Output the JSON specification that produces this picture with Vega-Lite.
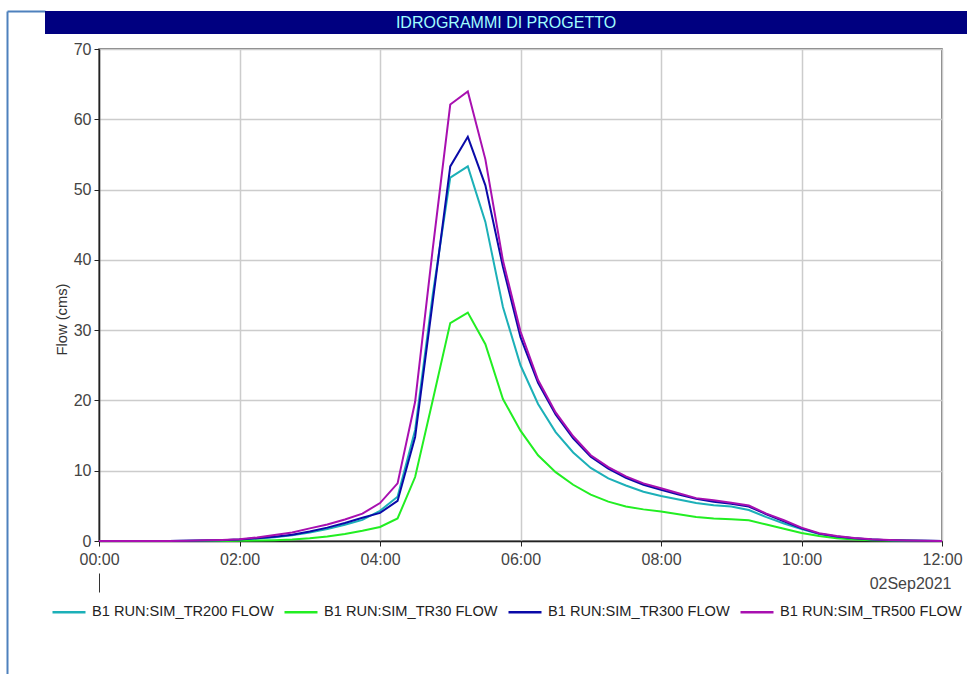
{
  "$schema": "https://vega.github.io/schema/vega-lite/v6.json",
  "padding": {"left": 7, "top": 11, "right": 0, "bottom": 0},
  "background": "white",
  "spacing": 0,
  "config": {
    "font": "Liberation Sans",
    "view": {"stroke": "#555555", "strokeWidth": 1.5},
    "axis": {
      "labelFont": "Liberation Sans",
      "labelFontSize": 16,
      "labelColor": "#444444",
      "tickColor": "#222222",
      "tickSize": 5,
      "domainColor": "#222222",
      "domainWidth": 1.5,
      "gridColor": "#cccccc",
      "gridWidth": 1.5,
      "titleFont": "Liberation Sans",
      "titleFontWeight": "normal"
    }
  },
  "hconcat": [
    {
      "width": 38,
      "height": 664,
      "view": {"stroke": null},
      "data": {"values": [{"a": 0}]},
      "mark": {"type": "point", "opacity": 0, "size": 0},
      "encoding": {
        "x": {"field": "a", "type": "quantitative", "axis": {"orient": "top", "domainColor": "#4f81bd", "domainWidth": 2, "ticks": false, "labels": false, "grid": false, "title": null}},
        "y": {"field": "a", "type": "quantitative", "axis": {"orient": "left", "domainColor": "#4f81bd", "domainWidth": 2, "ticks": false, "labels": false, "grid": false, "title": null}}
      }
    },
    {
      "spacing": 6,
      "vconcat": [
        {
          "width": 922,
          "height": 23,
          "view": {"fill": "#000080", "stroke": null},
          "data": {"values": [{"label": "IDROGRAMMI DI PROGETTO"}]},
          "mark": {"type": "text", "color": "#a0ffff", "fontSize": 16, "font": "Liberation Sans", "baseline": "middle", "align": "center"},
          "encoding": {"text": {"field": "label", "type": "nominal"}}
        },
        {
          "spacing": 0,
          "hconcat": [
            {
              "width": 8,
              "height": 1,
              "view": {"stroke": null},
              "data": {"values": [{"b": 0}]},
              "mark": {"type": "point", "opacity": 0, "size": 0}
            },
            {
              "width": 843,
              "height": 492,
              "layer": [
                {
                  "data": {"values": [
                    {"t": "2021-09-02T00:00", "TR200": 0, "TR30": 0, "TR300": 0, "TR500": 0},
                    {"t": "2021-09-02T00:15", "TR200": 0, "TR30": 0, "TR300": 0, "TR500": 0},
                    {"t": "2021-09-02T00:30", "TR200": 0, "TR30": 0, "TR300": 0, "TR500": 0},
                    {"t": "2021-09-02T00:45", "TR200": 0, "TR30": 0, "TR300": 0, "TR500": 0},
                    {"t": "2021-09-02T01:00", "TR200": 0, "TR30": 0, "TR300": 0, "TR500": 0},
                    {"t": "2021-09-02T01:15", "TR200": 0.03, "TR30": 0, "TR300": 0.03, "TR500": 0.04},
                    {"t": "2021-09-02T01:30", "TR200": 0.07, "TR30": 0, "TR300": 0.07, "TR500": 0.09},
                    {"t": "2021-09-02T01:45", "TR200": 0.12, "TR30": 0.01, "TR300": 0.12, "TR500": 0.15},
                    {"t": "2021-09-02T02:00", "TR200": 0.2, "TR30": 0.03, "TR300": 0.2, "TR500": 0.25},
                    {"t": "2021-09-02T02:15", "TR200": 0.35, "TR30": 0.06, "TR300": 0.4, "TR500": 0.5},
                    {"t": "2021-09-02T02:30", "TR200": 0.55, "TR30": 0.12, "TR300": 0.6, "TR500": 0.85},
                    {"t": "2021-09-02T02:45", "TR200": 0.8, "TR30": 0.22, "TR300": 0.9, "TR500": 1.2},
                    {"t": "2021-09-02T03:00", "TR200": 1.2, "TR30": 0.38, "TR300": 1.35, "TR500": 1.8},
                    {"t": "2021-09-02T03:15", "TR200": 1.7, "TR30": 0.65, "TR300": 1.9, "TR500": 2.35},
                    {"t": "2021-09-02T03:30", "TR200": 2.3, "TR30": 1.0, "TR300": 2.55, "TR500": 3.05},
                    {"t": "2021-09-02T03:45", "TR200": 3.0, "TR30": 1.45, "TR300": 3.3, "TR500": 3.9},
                    {"t": "2021-09-02T04:00", "TR200": 4.3, "TR30": 2.0, "TR300": 4.0, "TR500": 5.4},
                    {"t": "2021-09-02T04:15", "TR200": 6.3, "TR30": 3.2, "TR300": 5.7, "TR500": 8.2},
                    {"t": "2021-09-02T04:30", "TR200": 15.8, "TR30": 9.1, "TR300": 14.8, "TR500": 19.8},
                    {"t": "2021-09-02T04:45", "TR200": 35, "TR30": 20, "TR300": 34, "TR500": 41.5},
                    {"t": "2021-09-02T05:00", "TR200": 51.7, "TR30": 31.0, "TR300": 53.3, "TR500": 62.1},
                    {"t": "2021-09-02T05:15", "TR200": 53.3, "TR30": 32.5, "TR300": 57.5, "TR500": 63.95},
                    {"t": "2021-09-02T05:30", "TR200": 45.4, "TR30": 28.0, "TR300": 50.6, "TR500": 54.3},
                    {"t": "2021-09-02T05:45", "TR200": 33.3, "TR30": 20.2, "TR300": 39.0, "TR500": 39.9},
                    {"t": "2021-09-02T06:00", "TR200": 25.0, "TR30": 15.7, "TR300": 29.0, "TR500": 29.8},
                    {"t": "2021-09-02T06:15", "TR200": 19.5, "TR30": 12.2, "TR300": 22.5, "TR500": 22.9},
                    {"t": "2021-09-02T06:30", "TR200": 15.5, "TR30": 9.8, "TR300": 18.0, "TR500": 18.3},
                    {"t": "2021-09-02T06:45", "TR200": 12.6, "TR30": 8.0, "TR300": 14.6, "TR500": 14.9},
                    {"t": "2021-09-02T07:00", "TR200": 10.4, "TR30": 6.6, "TR300": 12.0, "TR500": 12.2},
                    {"t": "2021-09-02T07:15", "TR200": 8.9, "TR30": 5.6, "TR300": 10.3, "TR500": 10.5},
                    {"t": "2021-09-02T07:30", "TR200": 7.9, "TR30": 4.9, "TR300": 9.0, "TR500": 9.2},
                    {"t": "2021-09-02T07:45", "TR200": 7.0, "TR30": 4.5, "TR300": 8.0, "TR500": 8.2},
                    {"t": "2021-09-02T08:00", "TR200": 6.4, "TR30": 4.2, "TR300": 7.3, "TR500": 7.5},
                    {"t": "2021-09-02T08:15", "TR200": 5.9, "TR30": 3.8, "TR300": 6.6, "TR500": 6.8},
                    {"t": "2021-09-02T08:30", "TR200": 5.4, "TR30": 3.4, "TR300": 6.0, "TR500": 6.1},
                    {"t": "2021-09-02T08:45", "TR200": 5.1, "TR30": 3.2, "TR300": 5.6, "TR500": 5.8},
                    {"t": "2021-09-02T09:00", "TR200": 4.9, "TR30": 3.1, "TR300": 5.3, "TR500": 5.45},
                    {"t": "2021-09-02T09:15", "TR200": 4.4, "TR30": 2.95, "TR300": 4.9, "TR500": 5.05},
                    {"t": "2021-09-02T09:30", "TR200": 3.4, "TR30": 2.35, "TR300": 3.8, "TR500": 3.9},
                    {"t": "2021-09-02T09:45", "TR200": 2.5, "TR30": 1.75, "TR300": 2.8, "TR500": 2.95},
                    {"t": "2021-09-02T10:00", "TR200": 1.7, "TR30": 1.15, "TR300": 1.8, "TR500": 1.9},
                    {"t": "2021-09-02T10:15", "TR200": 1.0, "TR30": 0.7, "TR300": 1.05, "TR500": 1.1},
                    {"t": "2021-09-02T10:30", "TR200": 0.6, "TR30": 0.4, "TR300": 0.65, "TR500": 0.7},
                    {"t": "2021-09-02T10:45", "TR200": 0.35, "TR30": 0.22, "TR300": 0.4, "TR500": 0.42},
                    {"t": "2021-09-02T11:00", "TR200": 0.2, "TR30": 0.12, "TR300": 0.22, "TR500": 0.24},
                    {"t": "2021-09-02T11:15", "TR200": 0.1, "TR30": 0.06, "TR300": 0.12, "TR500": 0.13},
                    {"t": "2021-09-02T11:30", "TR200": 0.05, "TR30": 0.03, "TR300": 0.06, "TR500": 0.06},
                    {"t": "2021-09-02T11:45", "TR200": 0.02, "TR30": 0.01, "TR300": 0.03, "TR500": 0.03},
                    {"t": "2021-09-02T12:00", "TR200": 0.01, "TR30": 0, "TR300": 0.01, "TR500": 0.01}
                  ]},
                  "transform": [{"fold": ["TR200", "TR30", "TR300", "TR500"], "as": ["series", "flow"]}],
                  "mark": {"type": "line", "strokeWidth": 2},
                  "encoding": {
                    "x": {
                      "field": "t", "type": "temporal",
                      "scale": {"domain": ["2021-09-02T00:00", "2021-09-02T12:00"]},
                      "axis": {"format": "%H:%M", "values": ["2021-09-02T00:00", "2021-09-02T02:00", "2021-09-02T04:00", "2021-09-02T06:00", "2021-09-02T08:00", "2021-09-02T10:00", "2021-09-02T12:00"], "title": null, "labelPadding": 5, "labelFlush": false}
                    },
                    "y": {
                      "field": "flow", "type": "quantitative",
                      "scale": {"domain": [0, 70], "nice": false},
                      "axis": {"values": [0, 10, 20, 30, 40, 50, 60, 70], "title": "Flow (cms)", "titleFontSize": 14.7, "titleColor": "#333333", "titlePadding": 4, "titleY": 270, "labelPadding": 3}
                    },
                    "color": {
                      "field": "series", "type": "nominal",
                      "scale": {"domain": ["TR200", "TR30", "TR300", "TR500"], "range": ["#1cb0b8", "#22ee22", "#0a0aa8", "#a810b0"]},
                      "legend": {
                        "orient": "none", "legendX": 37, "legendY": 576, "direction": "horizontal", "title": null,
                        "padding": 7, "symbolType": "stroke", "symbolSize": 1089, "symbolStrokeWidth": 2.5,
                        "labelFontSize": 14.6, "labelColor": "#222222", "labelFont": "Liberation Sans", "labelLimit": 400,
                        "labelOffset": 5, "columnPadding": 5,
                        "labelExpr": "'B1 RUN:SIM_' + datum.label + ' FLOW'"
                      }
                    }
                  }
                },
                {
                  "data": {"values": [{"t": "2021-09-02T00:00"}]},
                  "mark": {"type": "point", "opacity": 0},
                  "encoding": {
                    "x": {
                      "field": "t", "type": "temporal",
                      "axis": {
                        "orient": "bottom", "offset": 32, "values": ["2021-09-02T00:00"],
                        "tickSize": 19, "tickWidth": 1, "tickColor": "#333333", "labels": false, "domain": false, "grid": false,
                        "title": "02Sep2021", "titleFontSize": 16, "titleColor": "#444444", "titleX": 852, "titleY": 10,
                        "titleAlign": "right", "titleBaseline": "middle"
                      }
                    }
                  }
                }
              ],
              "resolve": {"axis": {"x": "independent"}}
            }
          ]
        }
      ]
    }
  ]
}
